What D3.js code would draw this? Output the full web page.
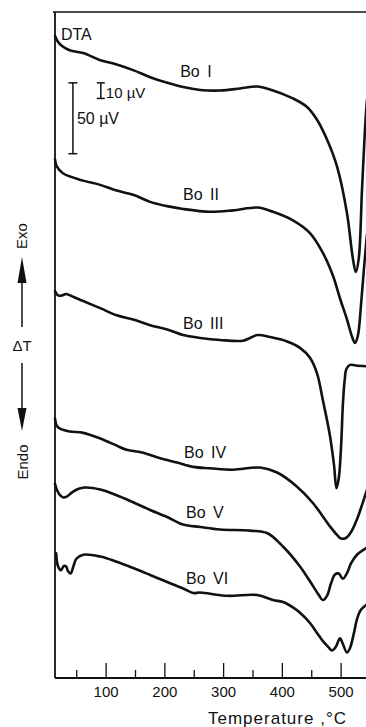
<!DOCTYPE html>
<html><head><meta charset="utf-8">
<script src="https://cdn.jsdelivr.net/npm/d3@7/dist/d3.min.js"></script>
<style>
html,body{margin:0;padding:0;background:#fff;overflow:hidden}
svg{display:block}
text{font-family:"Liberation Sans",Arial,sans-serif;fill:#111}
</style>
</head><body><div id="chart"></div>
<script>
// ---- data (temperature in °C, ΔT signal in µV, curves stacked with offsets) ----
const seriesNames = ["Bo I", "Bo II", "Bo III", "Bo IV", "Bo V", "Bo VI"];

const boI_T = [13, 18, 25, 38, 61, 90, 118, 146, 175, 204, 231, 260, 294, 328, 357, 379, 418, 442, 459, 476, 493, 510, 520, 525, 530, 535.5, 540.6, 544];
const boI_V = [453, 449, 446, 443, 441, 436, 433, 429, 424, 420, 417, 415, 414.6, 416, 417.4, 415.3, 409, 403, 394, 380, 361, 328, 296, 286.5, 296, 344, 387, 408];

const boII_T = [13, 16, 27, 61, 90, 118, 146, 175, 204, 231, 277, 316, 358, 384, 418, 447, 469, 486, 498, 510, 518.5, 523.6, 528.7, 533.8, 538.9, 544];
const boII_V = [366, 361, 356, 351, 348, 344, 341, 336, 333, 331, 329, 330, 332, 329, 323, 314, 300, 284, 268, 253, 241, 236.4, 242, 263, 289, 313];

const boIII_T = [13, 18, 25, 32, 44, 61, 90, 118, 146, 175, 204, 231, 260, 294, 333, 345, 358, 379, 408, 430, 447, 459, 469, 481, 488, 492, 496, 500, 503, 506, 509, 515, 525, 544];
const boIII_V = [273, 270, 270, 271, 269, 266, 261, 256, 253, 249, 246, 242, 240, 238.5, 238, 240, 242, 240.6, 237.5, 233, 226, 215, 196, 171, 150, 134, 141, 164, 193, 210, 218, 221, 220.5, 220];

const boIV_T = [13, 16, 21.5, 38, 61, 90, 118, 135, 163, 192, 221, 248, 277, 316, 362, 391, 425, 452, 481, 493, 500, 508, 517, 527, 535.5, 544];
const boIV_V = [183, 178, 176, 174, 173, 169, 164, 161, 159, 155, 152, 149, 148, 147, 148.5, 145, 135, 123.5, 107, 101, 98.4, 98.8, 103, 112, 122, 133];

const boV_T = [13, 16, 21.5, 27, 33, 42, 52, 64, 90, 118, 146, 175, 204, 231, 260, 294, 345, 374, 401, 430, 452, 462, 469, 476, 483, 489.5, 496, 503, 510, 517, 527, 544];
const boV_V = [137, 133, 129, 127.4, 128, 131, 133.4, 134.4, 133, 129, 124, 118.6, 113.6, 108.3, 106.6, 104.8, 104, 102.3, 92.8, 78.7, 65, 58.6, 55, 58, 67, 73, 73.7, 70, 74, 81, 87, 92];

const boVI_T = [15, 18, 23, 28, 32, 35, 39.4, 44, 49, 61, 90, 118, 146, 175, 204, 231, 248, 260, 306, 357, 384, 401, 418, 430, 447, 459, 469, 478, 484.5, 491, 498, 503, 510, 515, 522, 527, 534, 544];
const boVI_V = [88, 79, 76, 79, 78.7, 75.5, 73.7, 78.3, 84, 87, 85.7, 82, 77.6, 72.7, 67.7, 63.2, 60, 60.3, 58, 58.6, 55, 53.6, 49.8, 46, 38.8, 31.8, 26, 22, 19.4, 22, 28, 24, 18, 21, 32, 41.6, 48.3, 52];

const seriesT = [boI_T, boII_T, boIII_T, boIV_T, boV_T, boVI_T];
const seriesV = [boI_V, boII_V, boIII_V, boIV_V, boV_V, boVI_V];

const majorTicks = [100, 200, 300, 400, 500];
const minorTicks = [50, 150, 250, 350, 450];
const scaleBars = [{value: 50, label: "50 µV"}, {value: 10, label: "10 µV"}];

// ---- layout ----
const W = 366, H = 727;
const x = d3.scaleLinear().domain([13, 545]).range([55, 367.55]);
const y = d3.scaleLinear().domain([0, 470]).range([678, 12]);

const svg = d3.select("#chart").append("svg").attr("width", W).attr("height", H);

// frame: top line, left axis
svg.append("line").attr("x1", 53).attr("x2", W).attr("y1", y(470)).attr("y2", y(470))
  .attr("stroke", "#111").attr("stroke-width", 1.6);
svg.append("line").attr("x1", x(13)).attr("x2", x(13)).attr("y1", y(470)).attr("y2", y(0))
  .attr("stroke", "#111").attr("stroke-width", 1.8);

// bottom axis
const gx = svg.append("g").attr("transform", `translate(0,${y(0)})`);
gx.append("line").attr("x1", x(13)).attr("x2", W).attr("y1", 0).attr("y2", 0).attr("stroke", "#111").attr("stroke-width", 2);
gx.selectAll(".maj").data(majorTicks).join("line")
  .attr("x1", d => x(d)).attr("x2", d => x(d)).attr("y1", 0).attr("y2", -15)
  .attr("stroke", "#111").attr("stroke-width", 1.3);
gx.selectAll(".min").data(minorTicks).join("line")
  .attr("x1", d => x(d)).attr("x2", d => x(d)).attr("y1", 0).attr("y2", -8)
  .attr("stroke", "#111").attr("stroke-width", 1.3);
gx.selectAll(".lab").data(majorTicks).join("text")
  .attr("x", d => x(d)).attr("y", 19).attr("text-anchor", "middle")
  .attr("font-size", 15).text(d => d3.format("d")(d));

svg.append("text").attr("x", 208).attr("y", 724).attr("font-size", 17)
  .attr("letter-spacing", 1).text("Temperature ,°C");

// curves
const line = d3.line().x(d => x(d[0])).y(d => y(d[1])).curve(d3.curveCatmullRom.alpha(0.5));
seriesNames.forEach((name, i) => {
  const pts = seriesT[i].map((t, j) => [t, seriesV[i][j]]);
  svg.append("path").datum(pts).attr("d", line)
    .attr("fill", "none").attr("stroke", "#111").attr("stroke-width", 2.6)
    .attr("stroke-linejoin", "round").attr("stroke-linecap", "round");
});

// curve labels
const labelPos = [[226, 424], [231, 337.3], [231, 246.3], [232.6, 155.3], [236, 112.9], [236, 66.3]];
seriesNames.forEach((name, i) => {
  svg.append("text").attr("x", x(labelPos[i][0])).attr("y", y(labelPos[i][1]))
    .attr("font-size", 16).attr("word-spacing", 3).text(name);
});
svg.append("text").attr("x", x(23)).attr("y", y(450)).attr("font-size", 16).text("DTA");

// scale bars
function bar(tPos, vTop, val, serif) {
  const g = svg.append("g").attr("stroke", "#111").attr("stroke-width", 1.5);
  const cx = x(tPos), y1 = y(vTop), y2 = y(vTop - val);
  g.append("line").attr("x1", cx).attr("x2", cx).attr("y1", y1).attr("y2", y2);
  g.append("line").attr("x1", cx - serif).attr("x2", cx + serif).attr("y1", y1).attr("y2", y1);
  g.append("line").attr("x1", cx - serif).attr("x2", cx + serif).attr("y1", y2).attr("y2", y2);
  return {cx, y1, y2};
}
const b50 = bar(43.5, 420, scaleBars[0].value, 4.5);
svg.append("text").attr("x", b50.cx + 4).attr("y", y(420 - 29)).attr("font-size", 16).text(scaleBars[0].label);
const b10 = bar(91, 420, scaleBars[1].value * 1.1, 4);
svg.append("text").attr("x", b10.cx + 5).attr("y", y(420 - 10.6)).attr("font-size", 15).text(scaleBars[1].label);

// left annotation: Exo / ΔT / Endo
const ax = 22;
svg.append("text").attr("transform", `translate(27,236) rotate(-90)`).attr("text-anchor", "middle")
  .attr("font-size", 15).text("Exo");
svg.append("path").attr("d", `M${ax},257 L${ax + 4.5},283 L${ax - 4.5},283 Z`).attr("fill", "#111");
svg.append("line").attr("x1", ax).attr("x2", ax).attr("y1", 283).attr("y2", 327).attr("stroke", "#111").attr("stroke-width", 1.5);
svg.append("text").attr("x", ax).attr("y", 351).attr("text-anchor", "middle").attr("font-size", 15).text("ΔT");
svg.append("line").attr("x1", ax).attr("x2", ax).attr("y1", 363).attr("y2", 410).attr("stroke", "#111").attr("stroke-width", 1.5);
svg.append("path").attr("d", `M${ax},431 L${ax + 4.5},408 L${ax - 4.5},408 Z`).attr("fill", "#111");
svg.append("text").attr("transform", `translate(28,462) rotate(-90)`).attr("text-anchor", "middle")
  .attr("font-size", 15).text("Endo");
</script>
</body></html>
